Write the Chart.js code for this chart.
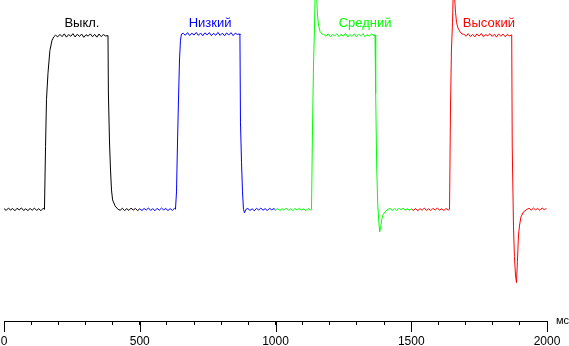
<!DOCTYPE html>
<html>
<head>
<meta charset="utf-8">
<script src="https://cdn.jsdelivr.net/npm/chart.js@4/dist/chart.umd.min.js"></script>
<style>
  html, body { margin: 0; padding: 0; background: #fff; }
  canvas { display: block; }
</style>
</head>
<body>
<canvas id="myChart" width="569" height="346"></canvas>
<script>
const ctx = document.getElementById('myChart');

// brightness response, [ms, level] pairs; 0 = dark, 100 = bright
const offPts = [
  [0, 0.4], [8, -0.6], [16, 0.7], [24, -0.4], [32, 0.5], [40, -0.8], [48, 0.6], [56, -0.3],
  [64, 0.8], [72, -0.6], [80, 0.3], [88, -0.7], [96, 0.5], [104, -0.5], [112, 0.7], [120, -0.6],
  [128, 0.4], [136, -0.8], [144, 0.6], [149, 0],
  [153, 36], [156.5, 63], [162, 78], [169, 91], [177, 97], [184, 99],
  [190, 99.8], [198, 98.9], [206, 100.3], [214, 99.0], [222, 100.6], [230, 98.7], [238, 100.2], [246, 99.2],
  [254, 100.7], [262, 98.8], [270, 100.4], [278, 99.1], [286, 100.5], [294, 98.6], [302, 100.1], [310, 99.3],
  [318, 100.6], [326, 98.9], [334, 100.3], [342, 98.7], [350, 100.5], [358, 99.0], [366, 100.2], [374, 99.4],
  [383, 99.6], [384.5, 66.7], [388.6, 38.6], [392, 23.7], [396, 11], [400, 5.4], [409, 2], [420, 0],
  [428, -0.5], [436, 0.6], [444, -0.7], [452, 0.4], [460, -0.6], [468, 0.7], [476, -0.4], [484, 0.5],
  [492, -0.7], [500, 0.3]
];

const lowPts = [
  [500, 0.3], [508, -0.7], [516, 0.5], [524, -0.4], [532, 0.8], [540, -0.6], [548, 0.4], [556, -0.8],
  [564, 0.6], [572, -0.5], [580, 0.7], [588, -0.3], [596, 0.5], [604, -0.7], [612, 0.4], [620, -0.6],
  [628, 0.6], [631.6, 0],
  [635.4, 10], [639, 38], [642.7, 62.7], [646.4, 85.6], [650, 97], [653.8, 100.5],
  [660, 100.9], [668, 99.8], [676, 101.3], [684, 99.6], [692, 101.0], [700, 99.9], [708, 101.4], [716, 99.7],
  [724, 101.1], [732, 99.5], [740, 101.2], [748, 100.0], [756, 101.3], [764, 99.6], [772, 100.9], [780, 99.8],
  [788, 101.4], [796, 99.7], [804, 101.0], [812, 99.5], [820, 101.2], [828, 99.9], [836, 101.3], [844, 99.6],
  [852, 101.0], [860, 100.2], [866, 100.6],
  [869, 100], [871, 50], [874.8, 27], [878.5, 10], [882, 0], [885.8, -2], [891, 0],
  [898, 0.5], [906, -0.6], [914, 0.3], [922, -0.8], [930, 0.6], [938, -0.4], [946, 0.7], [954, -0.5],
  [962, 0.4], [970, -0.7], [978, 0.6], [986, -0.3], [994, 0.5], [1000, -0.4]
];

const midPts = [
  [1000, -0.4], [1008, 0.6], [1016, -0.7], [1024, 0.4], [1032, -0.5], [1040, 0.8], [1048, -0.6], [1056, 0.3],
  [1064, -0.7], [1072, 0.5], [1080, -0.4], [1088, 0.7], [1096, -0.6], [1104, 0.4], [1112, -0.8], [1120, 0.5],
  [1128, -0.3], [1132.6, 0],
  [1136.2, 45], [1140, 82.7], [1143.6, 104], [1147, 131], [1151, 123], [1154.7, 111.4], [1158.4, 105.7],
  [1164, 102], [1171, 100.5],
  [1178, 100.3], [1186, 99.2], [1194, 100.6], [1202, 98.9], [1210, 100.2], [1218, 99.4], [1226, 100.7], [1234, 99.0],
  [1242, 100.4], [1250, 99.3], [1258, 100.8], [1266, 98.8], [1274, 100.3], [1282, 99.1], [1290, 100.6], [1298, 99.0],
  [1306, 100.5], [1314, 99.4], [1322, 100.7], [1330, 98.9], [1338, 100.2], [1346, 99.3], [1354, 100.6], [1362, 99.6],
  [1366.5, 100], [1369, 66.7], [1372.7, 24.3], [1376.4, 3.7], [1380, -6], [1383.8, -12.9], [1387.5, -10],
  [1391, -6], [1396, -3.2], [1403, -1.5], [1414, 0],
  [1422, 0.5], [1430, -0.6], [1438, 0.4], [1446, -0.7], [1454, 0.6], [1462, -0.3], [1470, 0.7], [1478, -0.5],
  [1486, 0.4], [1494, -0.6], [1500, 0.3]
];

const highPts = [
  [1500, 0.3], [1508, -0.6], [1516, 0.5], [1524, -0.8], [1532, 0.4], [1540, -0.5], [1548, 0.7], [1556, -0.6],
  [1564, 0.3], [1572, -0.7], [1580, 0.6], [1588, -0.4], [1596, 0.8], [1604, -0.5], [1612, 0.4], [1620, -0.7],
  [1628, 0.5], [1636, -0.4], [1641, 0],
  [1644.5, 57], [1648, 91.3], [1652, 107], [1655.6, 131], [1659, 123], [1663, 113], [1667, 107],
  [1672, 104], [1680, 101.7], [1687, 100.5],
  [1694, 100.4], [1702, 99.2], [1710, 100.7], [1718, 99.0], [1726, 100.3], [1734, 98.8], [1742, 100.6], [1750, 99.3],
  [1758, 100.8], [1766, 98.9], [1774, 100.2], [1782, 99.5], [1790, 100.7], [1798, 99.1], [1806, 100.4], [1814, 98.7],
  [1822, 100.6], [1830, 99.2], [1838, 100.5], [1846, 98.9], [1854, 100.3], [1862, 99.4],
  [1870, 100], [1872, 35.8], [1876.6, -10], [1880, -27], [1884, -37.6], [1887.5, -42], [1891, -30],
  [1895, -14.7], [1899, -9], [1904, -4.4], [1913, -1.5], [1926, 0],
  [1934, 0.6], [1942, -0.4], [1950, 0.7], [1958, -0.3], [1966, 0.5], [1974, -0.6], [1982, 0.8], [1990, -0.2],
  [1998, 0.5]
];

const modeNames = ['Выкл.', 'Низкий', 'Средний', 'Высокий'];
const modeColors = ['#000000', '#0000ff', '#00ff00', '#ff0000'];
const modePts = [offPts, lowPts, midPts, highPts];
const xUnit = 'мс';

const FONT = 'Liberation Sans, Arial, sans-serif';
// where each mode name sits: [ms, level]
const nameAnchors = [[287, 104.5], [759, 104.5], [1330, 104.5], [1786, 104.5]];

const toXY = pts => pts.map(p => ({ x: p[0], y: p[1] }));

// long ticks every 500 ms, unit label, mode names
const extras = {
  id: 'extras',
  afterDraw(chart) {
    const c = chart.ctx;
    const xs = chart.scales.x;
    const ys = chart.scales.y;
    const bottom = chart.chartArea.bottom;
    c.save();
    c.strokeStyle = '#000';
    c.lineWidth = 1;
    c.beginPath();
    for (let v = 0; v <= 2000; v += 500) {
      const px = Math.round(xs.getPixelForValue(v)) + 0.5;
      c.moveTo(px, bottom);
      c.lineTo(px, bottom + 11);
    }
    c.stroke();

    c.fillStyle = '#000';
    c.font = '11px ' + FONT;
    c.textAlign = 'left';
    c.textBaseline = 'alphabetic';
    c.fillText(xUnit, chart.chartArea.right + 9, bottom + 3);

    c.font = '13px ' + FONT;
    c.textAlign = 'center';
    modeNames.forEach((name, i) => {
      c.fillStyle = modeColors[i];
      c.fillText(name, xs.getPixelForValue(nameAnchors[i][0]), ys.getPixelForValue(nameAnchors[i][1]));
    });
    c.restore();
  }
};

const data = {
  datasets: modeNames.map((name, i) => ({
    label: name,
    data: toXY(modePts[i]),
    borderColor: modeColors[i],
    backgroundColor: modeColors[i],
    borderWidth: 1,
    pointRadius: 0,
    tension: 0,
    fill: false
  }))
};

const config = {
  type: 'line',
  data: data,
  options: {
    responsive: false,
    animation: false,
    layout: {
      padding: { left: 4, right: 22, top: 0, bottom: 0 }
    },
    plugins: {
      legend: { display: false },
      tooltip: { enabled: false },
      title: { display: false }
    },
    scales: {
      x: {
        type: 'linear',
        min: 0,
        max: 2000,
        afterFit(scale) {
          scale.height = 25;
          scale.paddingLeft = 0;
          scale.paddingRight = 0;
        },
        border: { display: true, color: '#000', width: 1 },
        grid: {
          display: true,
          drawOnChartArea: false,
          drawTicks: true,
          tickLength: 4,
          tickColor: '#000',
          color: '#000'
        },
        ticks: {
          stepSize: 100,
          autoSkip: false,
          maxRotation: 0,
          padding: 9,
          color: '#000',
          font: { family: FONT, size: 12 },
          callback: v => (v % 500 === 0 ? String(v) : '')
        }
      },
      y: {
        display: false,
        min: -64,
        max: 120
      }
    }
  },
  plugins: [extras]
};

let chart = new Chart(ctx, config);
</script>
</body>
</html>
